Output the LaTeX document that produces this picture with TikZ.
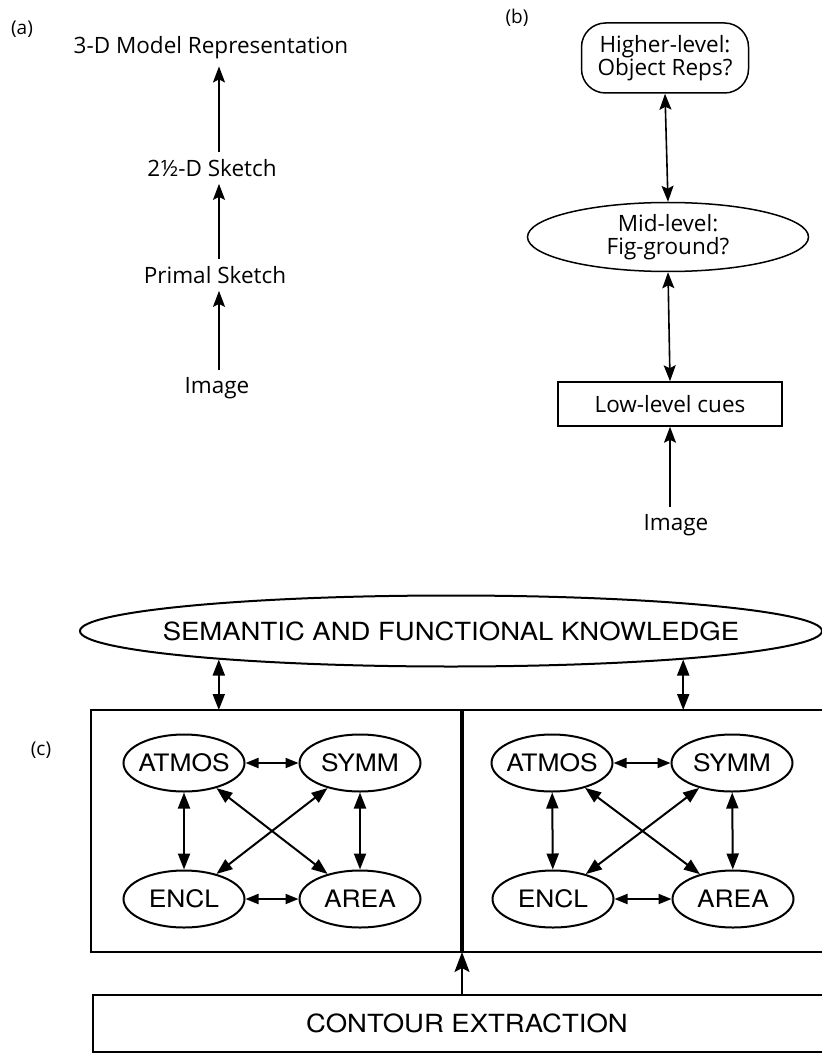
\documentclass[tikz,border=0pt]{standalone}
\usepackage{fontspec}
\setmainfont{Open Sans}
\newfontfamily\helvfont[FakeStretch=1.1]{TeX Gyre Heros}
\usetikzlibrary{arrows.meta,positioning,shapes.geometric}
\tikzset{
  mtext/.style={
    inner xsep=0pt,
    inner ysep=7pt,
    align=center,
    font=\fontsize{22.5}{23.5}\selectfont
  },
  mtag/.style={inner sep=0pt,font=\fontsize{19}{21}\selectfont},
  mround/.style={mtext,draw,line width=1.5pt,rounded corners=24pt,minimum width=167pt,minimum height=70pt},
  moval/.style={mtext,draw,ellipse,inner ysep=0pt,line width=1.5pt,minimum width=281pt,minimum height=69pt},
  mrect/.style={mtext,draw,line width=1.5pt,minimum width=224pt,minimum height=44pt},
  mup/.style={-{Stealth[length=16pt,width=12pt,inset=3pt]},line width=1.6pt},
  mboth/.style={{Stealth[length=16pt,width=12pt,inset=3pt]}-{Stealth[length=16pt,width=12pt,inset=3pt]},line width=1.6pt},
  cfont/.style={font=\helvfont\fontsize{24}{28}\selectfont},
  coval/.style={cfont,draw,ellipse,line width=2pt,inner xsep=-6pt,inner ysep=0pt,minimum width=121pt,minimum height=57pt},
  cframe/.style={draw,line width=2pt,inner sep=0pt,outer sep=0pt},
  cboth/.style={{Triangle[length=16pt,width=12pt]}-{Triangle[length=16pt,width=12pt]},line width=2pt},
  cshort/.style={{Triangle[length=13pt,width=10pt]}-{Triangle[length=13pt,width=10pt]},line width=2pt},
  cup/.style={-{Stealth[length=20pt,width=15pt,inset=4pt]},line width=2pt}
}

\begin{document}
\begin{tikzpicture}[x=1pt,y=-1pt]
  \useasboundingbox (0,0) rectangle (821,1056);
  % (a) Marr's sequence
  \node[mtag] (taga) at (22,29) {(a)};
  \node[mtext] (model) at (211,48) {3-D Model Representation};
  \node[mtext] (sketch) at (212,168) {2\kern.5pt½-D Sketch};
  \node[mtext] (primal) at (215,275) {Primal Sketch};
  \node[mtext] (imga) at (217,388) {Image};
  \coordinate (acol) at (219,0);
  \draw[mup] (sketch.north -| acol) -- (model.south -| acol);
  \draw[mup] (primal.north -| acol) -- (sketch.south -| acol);
  \draw[mup] (imga.north -| acol) -- (primal.south -| acol);
  % (b) interactive levels
  \node[mtag] (tagb) at (517,18) {(b)};
  \node[mround] (higher) at (665,58) {Higher-level:\\Object Reps?};
  \node[moval] (mid) at (668,237) {Mid-level:\\Fig-ground?};
  \node[mrect] (low) at (670,404) {Low-level cues};
  \node[mtext] (imgb) at (676,525) {Image};
  \draw[mboth] (higher.south) -- (mid.north);
  \draw[mboth] (mid.south) -- (low.north);
  \draw[mup] (imgb.north -| low.south) -- (low.south);
  % (c) two modules
  \node[mtag] (tagc) at (41,750) {(c)};
  \node[cfont,font=\helvfont\fontsize{25}{28}\selectfont,draw,ellipse,line width=2pt,inner xsep=-40pt,inner ysep=0pt,
        minimum width=742pt,minimum height=71pt] (sem) at (451,631) {SEMANTIC AND FUNCTIONAL KNOWLEDGE};
  \node[cframe,minimum width=371pt,minimum height=242pt] (lbox) at (276.5,831) {};
  \node[cframe,minimum width=380pt,minimum height=242pt,right=0pt of lbox] (rbox) {};
  \draw[line width=4pt] (lbox.north east) -- (lbox.south east);
  \node[cframe,cfont,font=\helvfont\fontsize{25}{28}\selectfont,minimum width=748pt,minimum height=57pt] (contour) at (467,1023.5) {CONTOUR EXTRACTION};
  \draw[cboth] (sem.187) -- (sem.187 |- lbox.north);
  \draw[cboth] (sem.353) -- (sem.353 |- rbox.north);
  \draw[cup] (contour.north -| lbox.east) -- (lbox.south east);
  \node[coval] (atmosl) at (184,763) {ATMOS};
  \node[coval] (symml) at (360,763) {SYMM};
  \node[coval] (encll) at (184,899) {ENCL};
  \node[coval] (areal) at (360,899) {AREA};
  \node[coval] (atmosr) at (552,763) {ATMOS};
  \node[coval] (symmr) at (732,763) {SYMM};
  \node[coval] (enclr) at (553,899) {ENCL};
  \node[coval] (arear) at (733,899) {AREA};
  \draw[cshort] (atmosl) -- (symml);
  \draw[cshort] (encll) -- (areal);
  \draw[cboth] (atmosl) -- (encll);
  \draw[cboth] (symml) -- (areal);
  \draw[cboth] (atmosl) -- (areal);
  \draw[cboth] (symml) -- (encll);
  \draw[cshort] (atmosr) -- (symmr);
  \draw[cshort] (enclr) -- (arear);
  \draw[cboth] (atmosr) -- (enclr);
  \draw[cboth] (symmr) -- (arear);
  \draw[cboth] (atmosr) -- (arear);
  \draw[cboth] (symmr) -- (enclr);
\end{tikzpicture}
\end{document}
